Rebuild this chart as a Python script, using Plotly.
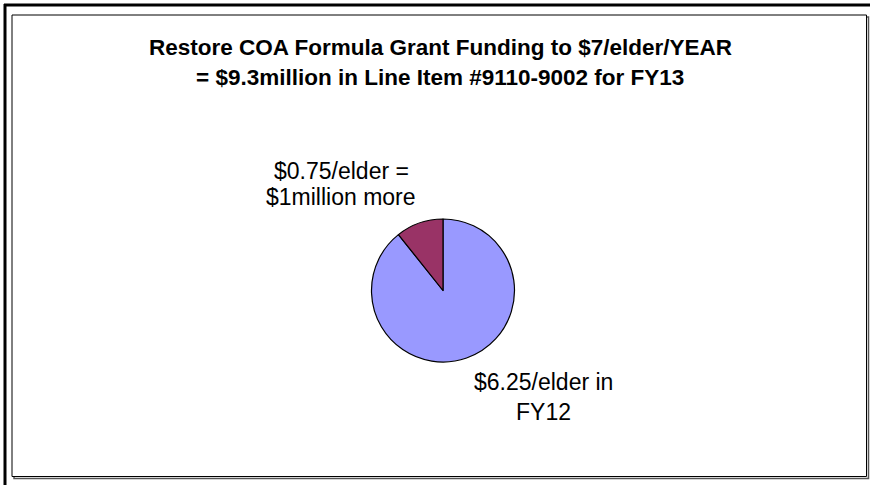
import plotly.graph_objects as go

categories = ["$6.25/elder in FY12", "$0.75/elder = $1million more"]
values = [6.25, 0.75]
colors = ["#9999FF", "#993366"]
label_lines = [["$6.25/elder in", "FY12"], ["$0.75/elder =", "$1million more"]]
title_lines = ["Restore COA Formula Grant Funding to $7/elder/YEAR",
               "= $9.3million in Line Item #9110-9002 for FY13"]

W, H = 870, 485

def px(x):
    return x / W

def py(y):
    return 1 - y / H

fig = go.Figure(go.Pie(
    labels=categories,
    values=values,
    sort=False,
    direction="clockwise",
    rotation=0,
    marker=dict(colors=colors, line=dict(color="black", width=1.2)),
    textinfo="none",
    hoverinfo="label+value",
    showlegend=False,
    domain=dict(x=[px(371.5), px(514.5)], y=[py(362), py(219)]),
))

fnt = "Liberation Sans, Arial, sans-serif"
annotations = []
for txt, yy in zip(title_lines, [48, 77]):
    annotations.append(dict(x=px(440), y=py(yy), xref="paper", yref="paper",
                            text="<b>" + txt + "</b>", showarrow=False,
                            font=dict(family=fnt, size=22.5, color="black"),
                            xanchor="center", yanchor="middle"))
label_pos = [(543, [382, 412]), (341, [171, 197])]
for lines, (lx, lys) in zip(label_lines, label_pos):
    for txt, yy in zip(lines, lys):
        annotations.append(dict(x=px(lx), y=py(yy), xref="paper", yref="paper",
                                text=txt, showarrow=False,
                                font=dict(family=fnt, size=23, color="black"),
                                xanchor="center", yanchor="middle"))

shapes = [
    dict(type="line", xref="paper", yref="paper", x0=px(4), x1=1, y0=py(5), y1=py(5),
         line=dict(color="black", width=3)),
    dict(type="line", xref="paper", yref="paper", x0=px(5), x1=px(5), y0=py(4), y1=0,
         line=dict(color="black", width=3)),
    dict(type="rect", xref="paper", yref="paper", x0=px(14), x1=px(868.5), y0=py(478.5), y1=py(17),
         line=dict(color="#555555", width=1.5), fillcolor="rgba(0,0,0,0)"),
    dict(type="rect", xref="paper", yref="paper", x0=px(12), x1=px(866.5), y0=py(476.5), y1=py(15),
         line=dict(color="black", width=1), fillcolor="white"),
]

fig.update_layout(
    width=W, height=H,
    margin=dict(l=0, r=0, t=0, b=0),
    paper_bgcolor="white",
    plot_bgcolor="white",
    annotations=annotations,
    shapes=[dict(s, layer="below") for s in shapes],
)

fig.write_html("out.html", config={"displayModeBar": False},
               post_script="document.body.style.margin='0';")
